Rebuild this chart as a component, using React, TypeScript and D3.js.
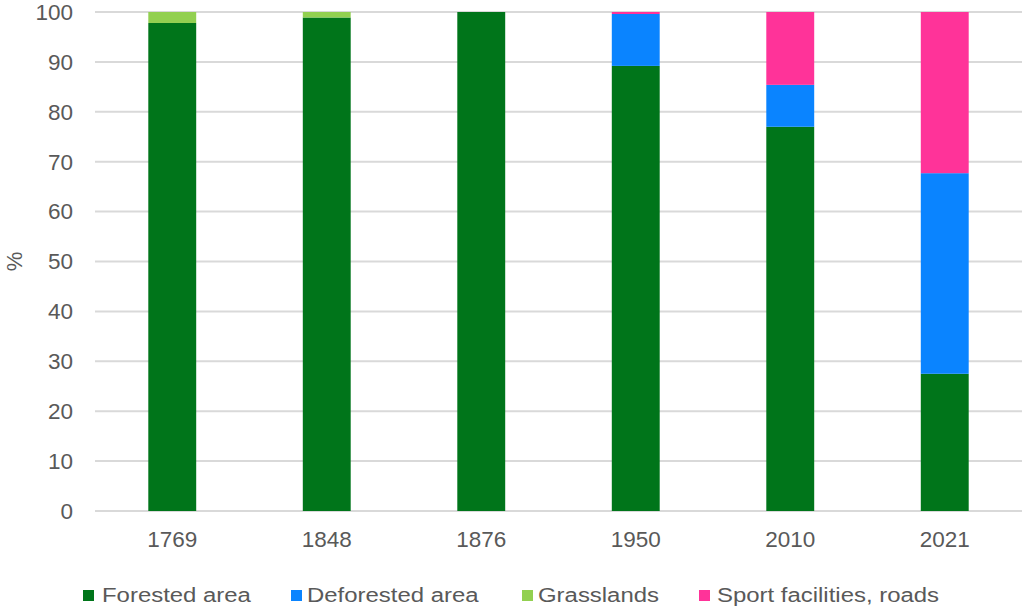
import React from "react";
import * as d3 from "d3";

const years = ["1769", "1848", "1876", "1950", "2010", "2021"];
const forested = [97.8, 98.9, 100, 89.2, 77.0, 27.5];
const deforested = [0, 0, 0, 10.4, 8.4, 40.2];
const grasslands = [2.2, 1.1, 0, 0, 0, 0];
const sport = [0, 0, 0, 0.4, 14.6, 32.3];
const seriesNames = ["Forested area", "Deforested area", "Grasslands", "Sport facilities, roads"];
const seriesColors = ["#00751A", "#0A84FF", "#92D050", "#FF3399"];
const yTicks = [0, 10, 20, 30, 40, 50, 60, 70, 80, 90, 100];

const W = 1024, H = 609;
const left = 95, right = 1022, top = 12, bottom = 511;

export default function App() {
  const x = d3.scaleBand().domain(years).range([left, right]).paddingInner(0.69).paddingOuter(0.345);
  const y = d3.scaleLinear().domain([0, 100]).range([bottom, top]);
  const rows = years.map((yr, i) => ({ year: yr, s0: forested[i], s1: deforested[i], s2: grasslands[i], s3: sport[i] }));
  const stack = d3.stack<any>().keys(["s0", "s1", "s2", "s3"])(rows);
  const font = "'Liberation Sans', Arial, sans-serif";
  const squareX = [83, 291, 522, 699];
  const textX = [102, 307, 538, 717];
  return (
    <svg width={W} height={H} style={{ position: "absolute", left: 0, top: 0, background: "#fff" }}>
      <rect width={W} height={H} fill="#fff" />
      {yTicks.map(t => (
        <g key={t}>
          <line x1={left} x2={right} y1={y(t)} y2={y(t)} stroke="#D9D9D9" strokeWidth={2} />
          <text x={73} y={y(t)} dy="0.35em" textAnchor="end" fontFamily={font} fontSize={22.5} fill="#595959">{t}</text>
        </g>
      ))}
      {stack.map((layer, si) => (
        <g key={si} fill={seriesColors[si]}>
          {layer.map((d, i) => d[1] - d[0] > 0 ? (
            <rect key={i} x={x(years[i])} width={x.bandwidth()} y={y(d[1])} height={y(d[0]) - y(d[1])} />
          ) : null)}
        </g>
      ))}
      {years.map(yr => (
        <text key={yr} x={(x(yr) as number) + x.bandwidth() / 2} y={539} dy="0.35em" textAnchor="middle" fontFamily={font} fontSize={22.5} fill="#595959">{yr}</text>
      ))}
      <text transform={`translate(14,${y(50)}) rotate(-90)`} textAnchor="middle" dy="0.35em" fontFamily={font} fontSize={22} fill="#595959">%</text>
      {seriesNames.map((n, i) => (
        <g key={n}>
          <rect x={squareX[i]} y={590} width={11} height={11} fill={seriesColors[i]} />
          <text transform={`translate(${textX[i]},595) scale(1.14,1)`} dy="0.35em" fontFamily={font} fontSize={21} fill="#595959">{n}</text>
        </g>
      ))}
    </svg>
  );
}
